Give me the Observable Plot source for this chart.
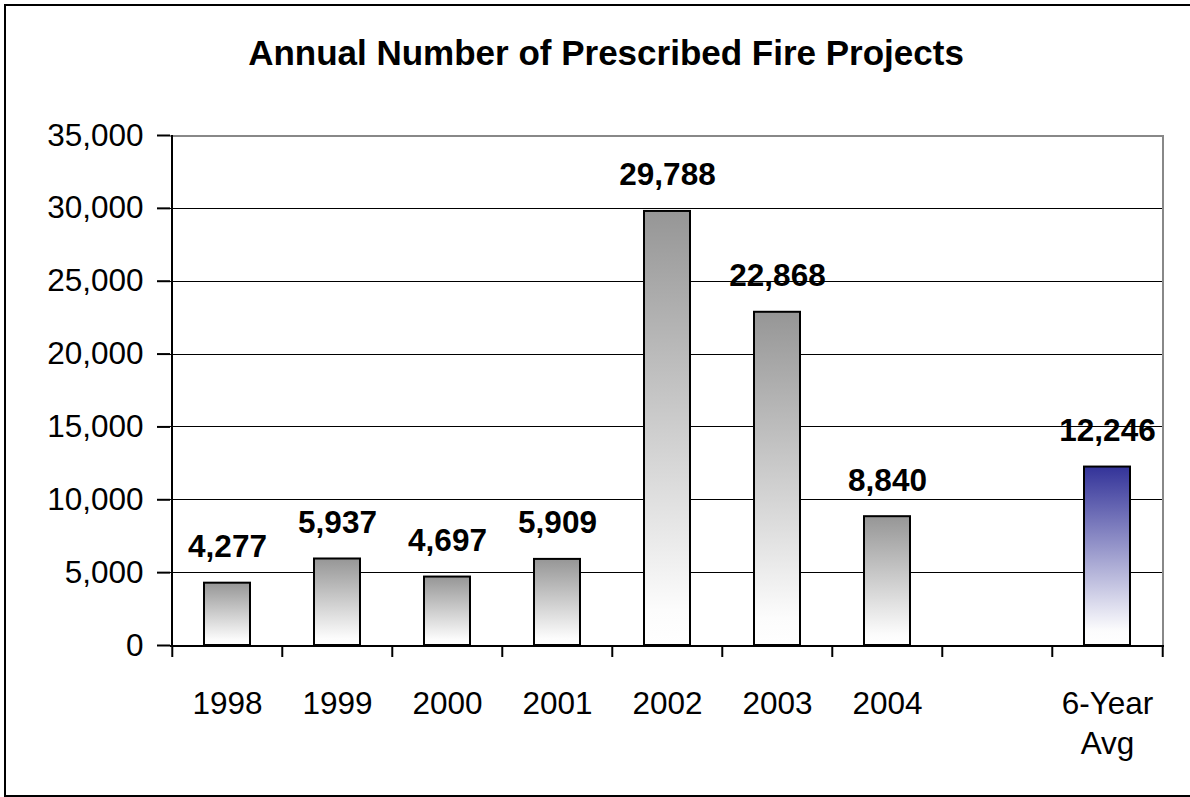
<!DOCTYPE html>
<html>
<head>
<meta charset="utf-8">
<script src="https://cdn.jsdelivr.net/npm/d3@7"></script>
<script src="https://cdn.jsdelivr.net/npm/@observablehq/plot@0.6"></script>
<style>
  html, body { margin: 0; padding: 0; background: #fff; overflow: hidden; }
  #wrap { position: relative; width: 1190px; height: 797px; }
  #frame { position: absolute; left: 4px; top: 4px; width: 1300px; height: 789px; border: 2px solid #000; }
  #title { position: absolute; left: 21px; width: 1170px; top: 35px; text-align: center;
           font: bold 35px/35px "Liberation Sans", Arial, sans-serif; color: #000; white-space: nowrap; }
  #chart { position: absolute; left: 0; top: 90px; }
</style>
</head>
<body>
<div id="wrap">
  <div id="frame"></div>
  <div id="title">Annual Number of Prescribed Fire Projects</div>
  <div id="chart"></div>
</div>
<script>
const categories = ["1998", "1999", "2000", "2001", "2002", "2003", "2004", "", "6-Year Avg"];
const tickLabels = ["1998", "1999", "2000", "2001", "2002", "2003", "2004", "", "6-Year\nAvg"];
const yearLabels = ["1998", "1999", "2000", "2001", "2002", "2003", "2004"];
const yearValues = [4277, 5937, 4697, 5909, 29788, 22868, 8840];
const avgLabel = ["6-Year Avg"];
const avgValue = [12246];
const yTicks = [0, 5000, 10000, 15000, 20000, 25000, 30000, 35000];

const years = yearLabels.map((c, i) => ({cat: c, value: yearValues[i]}));
const avg = avgLabel.map((c, i) => ({cat: c, value: avgValue[i]}));
const all = years.concat(avg);

const W = 1190, H = 707, mL = 170, mR = 26, mT = 45, mB = 152;
const step = (W - mL - mR) / categories.length;
const font = "Liberation Sans, Arial, sans-serif";
const fmt = d3.format(",");
const labelOf = new Map(categories.map((c, i) => [c, tickLabels[i]]));
const crisp = {shapeRendering: "crispEdges"};

const svg = Plot.plot({
  width: W, height: H,
  marginLeft: mL, marginRight: mR, marginTop: mT, marginBottom: mB,
  style: {fontFamily: font, background: "transparent", overflow: "visible"},
  x: {type: "band", domain: categories, padding: 0, axis: null, label: null},
  y: {domain: [0, 35000], axis: null, label: null},
  marks: [
    Plot.ruleY(yTicks.filter(d => d > 0 && d < 35000), {stroke: "#000", strokeWidth: 1, ...crisp}),
    Plot.ruleY([35000], {stroke: "#888", strokeWidth: 2, ...crisp}),
    Plot.ruleX([categories[categories.length - 1]], {dx: step / 2, stroke: "#888", strokeWidth: 2, ...crisp}),
    Plot.barY(years, {x: "cat", y: "value", fill: "url(#grayGrad)", stroke: "#000", strokeWidth: 2, insetLeft: 32, insetRight: 32}),
    Plot.barY(avg, {x: "cat", y: "value", fill: "url(#blueGrad)", stroke: "#000", strokeWidth: 2, insetLeft: 32, insetRight: 32}),
    Plot.ruleX([categories[0]], {dx: -step / 2, stroke: "#000", strokeWidth: 2, ...crisp}),
    Plot.ruleY([0], {stroke: "#000", strokeWidth: 2, ...crisp}),
    Plot.axisY({ticks: yTicks, label: null, tickSize: 13, tickPadding: 14, strokeWidth: 2, fontSize: 31.5, fill: "#000",
      tickFormat: d => fmt(d)}),
    Plot.axisX({ticks: categories, label: null, tickSize: 12, dx: -step / 2, strokeWidth: 2, tickFormat: () => ""}),
    Plot.axisX({ticks: [categories[categories.length - 1]], label: null, tickSize: 12, dx: step / 2, strokeWidth: 2, tickFormat: () => ""}),
    Plot.axisX({ticks: categories, label: null, tickSize: 0, tickPadding: 40, fontSize: 31.5, lineHeight: 1.27, fill: "#000",
      tickFormat: d => labelOf.get(d)}),
    Plot.text(all, {x: "cat", y: "value", text: d => fmt(d.value), dy: -26, lineAnchor: "bottom",
      fontSize: 31.5, fontWeight: "bold", fill: "#000"})
  ]
});

const defs = d3.select(svg).insert("defs", ":first-child");
const g1 = defs.append("linearGradient").attr("id", "grayGrad").attr("x1", 0).attr("y1", 0).attr("x2", 0).attr("y2", 1);
g1.append("stop").attr("offset", 0).attr("stop-color", "#969696");
g1.append("stop").attr("offset", 0.92).attr("stop-color", "#fcfcfc");
g1.append("stop").attr("offset", 1).attr("stop-color", "#ffffff");
const g2 = defs.append("linearGradient").attr("id", "blueGrad").attr("x1", 0).attr("y1", 0).attr("x2", 0).attr("y2", 1);
g2.append("stop").attr("offset", 0).attr("stop-color", "#333399");
g2.append("stop").attr("offset", 0.92).attr("stop-color", "#fcfcfd");
g2.append("stop").attr("offset", 1).attr("stop-color", "#ffffff");

document.getElementById("chart").appendChild(svg);
</script>
</body>
</html>
